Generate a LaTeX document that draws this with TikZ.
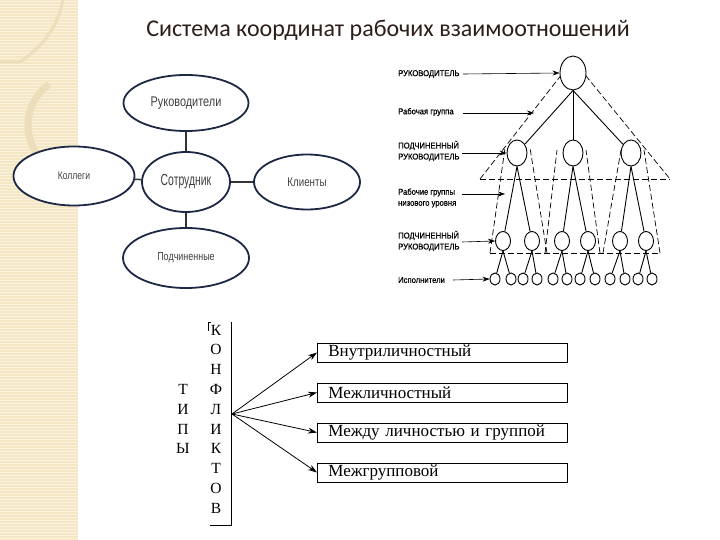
\documentclass[tikz,border=0pt]{standalone}
\usepackage{fontspec}
\setmainfont{Liberation Serif}
\newfontfamily\titlefont{Carlito}
\newfontfamily\ovalfont[FakeStretch=0.78]{Liberation Sans}
\newfontfamily\sotrfont[FakeStretch=0.65]{Liberation Sans}
\newfontfamily\labfont[FakeStretch=0.9,FakeBold=0.6]{Liberation Sans}
\usetikzlibrary{shapes.geometric,arrows.meta}
\definecolor{beige}{RGB}{243,231,198}
\definecolor{beigeline}{RGB}{250,242,222}
\definecolor{beigearc}{RGB}{236,222,186}
\definecolor{navy}{RGB}{28,40,68}
\definecolor{titlecol}{RGB}{45,30,25}
\begin{document}
\begin{tikzpicture}[x=1pt,y=-1pt,
  oval/.style={ellipse,draw=navy,line width=1.8pt,fill=white,inner sep=0pt,text=black!75},
  link/.style={draw=black!80,line width=1.5pt},
  circ/.style={ellipse,draw,line width=0.9pt,fill=white,inner sep=0pt},
  tree/.style={line width=0.9pt},
  grp/.style={line width=0.7pt,dash pattern=on 6pt off 3pt},
  lab/.style={font=\labfont\fontsize{8.5}{11}\selectfont,anchor=west,inner sep=0pt,align=left},
  ptr/.style={-{Stealth[length=7pt,width=5pt]},line width=0.6pt},
  typebox/.style={draw,line width=0.8pt,minimum width=250pt,minimum height=19pt,anchor=west,inner ysep=0pt,inner xsep=11pt,text width=228pt,align=left,font=\fontsize{17}{18}\selectfont},
  letter/.style={font=\fontsize{15.5}{16}\selectfont,inner sep=0pt},
  karrow/.style={-{Stealth[length=9pt,width=6pt]},line width=0.8pt}
]
\useasboundingbox (0,0) rectangle (720,540);
% background strip
\fill[beige] (0,0) rectangle (78,540);
\foreach \yy in {1.5,4.5,...,540} {\draw[beigeline,line width=0.7pt] (0,\yy) -- (78,\yy);}
\begin{scope}
\clip (0,0) rectangle (78,540);
\draw[beigearc,line width=7pt] (78,125) ++(95:50) arc[start angle=95,end angle=235,radius=50];
\draw[beigearc,line width=3pt] (0,62) -- (20,62) .. controls (45,45) and (58,25) .. (63,0);
\end{scope}

% title
\node[font=\titlefont\fontsize{24}{26}\selectfont,text=titlecol] (title) at (388,30) {Система координат рабочих взаимоотношений};

% ellipse diagram
\node[oval,minimum width=125pt,minimum height=56pt,font=\ovalfont\fontsize{14}{15}\selectfont] (ruk) at (186,103) {Руководители};
\node[oval,minimum width=88pt,minimum height=60pt,font=\sotrfont\fontsize{16}{17}\selectfont] (sotr) at (186,182) {Сотрудник};
\node[oval,minimum width=121pt,minimum height=59pt,font=\ovalfont\fontsize{11}{12}\selectfont] (koll) at (74,176) {Коллеги};
\node[oval,minimum width=106pt,minimum height=55pt,font=\ovalfont\fontsize{12.5}{13}\selectfont] (kli) at (307,182) {Клиенты};
\node[oval,minimum width=126pt,minimum height=60pt,font=\ovalfont\fontsize{11.5}{12}\selectfont] (podch) at (186,258) {Подчиненные};
\draw[link] (ruk) -- (sotr);
\draw[link] (koll) -- (sotr);
\draw[link] (sotr) -- (kli);
\draw[link] (sotr) -- (podch);

% hierarchy: dashed groups
\draw[grp] (480,179) -- (573,60) -- (670,179);
\draw[grp] (480,179) -- (670,179);
\draw[grp] (490,253) -- (505,148);
\draw[grp] (547,253) -- (530,148);
\draw[grp] (545,253) -- (557,150);
\draw[grp] (600,253) -- (586,150);
\draw[grp] (603,253) -- (621,150);
\draw[grp] (660,253) -- (644,150);
\draw[grp] (490,253) -- (660,253);

% hierarchy nodes
\node[circ,minimum width=26pt,minimum height=34pt] (top) at (573,73) {};
\foreach \n/\xx in {1/517,2/573,3/631}
  \node[circ,minimum width=20pt,minimum height=26pt] (m\n) at (\xx,153) {};
\foreach \n/\xx in {1/503,2/532,3/562,4/588,5/620,6/646}
  \node[circ,minimum width=15pt,minimum height=19pt] (l\n) at (\xx,241) {};
\foreach \n/\xx in {1/495,2/511,3/523,4/537,5/553,6/567,7/580,8/595,9/610,10/625,11/638,12/652}
  \node[circ,minimum width=10pt,minimum height=12pt] (b\n) at (\xx,279) {};
\foreach \n in {1,2,3} \draw[tree] (top.south) -- (m\n);
\draw[tree] (m1.south) -- (l1); \draw[tree] (m1.south) -- (l2);
\draw[tree] (m2.south) -- (l3); \draw[tree] (m2.south) -- (l4);
\draw[tree] (m3.south) -- (l5); \draw[tree] (m3.south) -- (l6);
\foreach \p/\c in {1/1,1/2,2/3,2/4,3/5,3/6,4/7,4/8,5/9,5/10,6/11,6/12}
  \draw[tree] (l\p.south) -- (b\c);

% hierarchy labels
\node[lab] (t1) at (398,74) {РУКОВОДИТЕЛЬ};
\node[lab] (t2) at (398,112) {Рабочая группа};
\node[lab] (t3) at (398,151) {ПОДЧИНЕННЫЙ\\РУКОВОДИТЕЛЬ};
\node[lab] (t4) at (398,198) {Рабочие группы\\низового уровня};
\node[lab] (t5) at (398,241) {ПОДЧИНЕННЫЙ\\РУКОВОДИТЕЛЬ};
\node[lab] (t6) at (398,280) {Исполнители};
\coordinate (wg) at (534,113);
\coordinate (wl) at (505,194);
\draw[ptr] (463,74) -- (top.west);
\draw[ptr] (463,113) -- (wg);
\draw[ptr] (462,153) -- (m1.west);
\draw[ptr] (462,194) -- (wl);
\draw[ptr] (462,242) -- (l1.west);
\draw[ptr] (453,280) -- (b1.west);

% conflict types
\draw[line width=0.8pt] (208,331) -- (208,322) -- (211,322);
\draw[line width=0.8pt] (231,322) -- (231,525) -- (210,525);
\foreach \ch [count=\i from 0] in {К,О,Н,Ф,Л,И,К,Т,О,В}
  \node[letter] (k\i) at (216,{330+19.8*\i}) {\ch};
\foreach \ch [count=\i from 3] in {Т,И,П,Ы}
  \node[letter] (tp\i) at (183,{330+19.8*\i}) {\ch};
\node[typebox] (c1) at (317,352.5) {Внутриличностный};
\node[typebox] (c2) at (317,392.5) {Межличностный};
\node[typebox] (c3) at (317,432.5) {Между личностью и группой};
\node[typebox] (c4) at (317,472.5) {Межгрупповой};
\coordinate (src) at (232,414);
\foreach \n in {1,2,3,4} \draw[karrow] (src) -- (c\n.west);
\end{tikzpicture}
\end{document}
